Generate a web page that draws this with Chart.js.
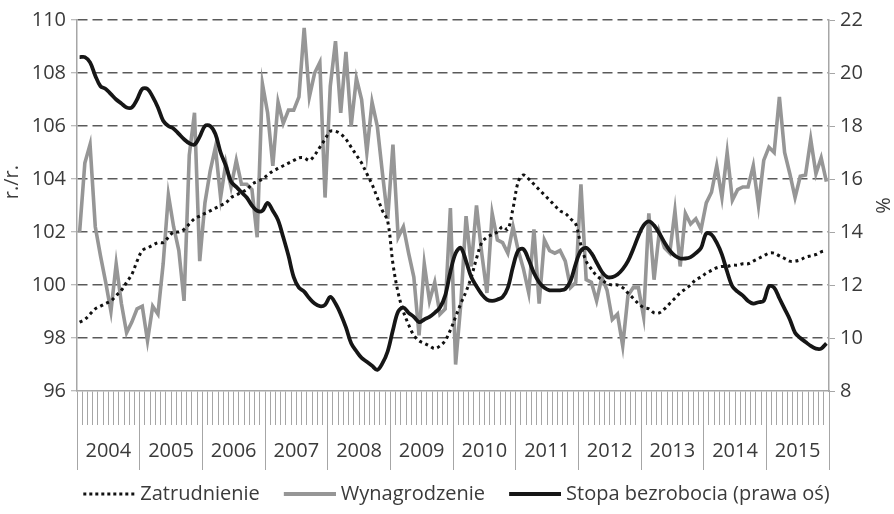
<!DOCTYPE html>
<html><head><meta charset="utf-8">
<script src="https://cdn.jsdelivr.net/npm/chart.js@4.4.1/dist/chart.umd.min.js"></script>
<style>html,body{margin:0;padding:0;background:#fff;overflow:hidden}</style>
</head><body>
<canvas id="c" width="894" height="514"></canvas>
<script>
const years = ['2004','2005','2006','2007','2008','2009','2010','2011','2012','2013','2014','2015'];
const leftTicks = [96, 110, 2];
const rightTicks = [8, 22, 2];

const zatrudnienie = [98.6,98.7,98.9,99.1,99.2,99.3,99.4,99.6,99.8,100.1,100.4,100.9,
 101.3,101.4,101.5,101.6,101.6,101.8,102.0,102.0,102.1,102.3,102.5,102.6,
 102.7,102.8,102.9,103.0,103.1,103.3,103.4,103.5,103.6,103.8,103.9,104.0,
 104.15,104.3,104.4,104.5,104.6,104.7,104.8,104.8,104.7,104.9,105.2,105.5,
 105.8,105.8,105.7,105.5,105.2,104.9,104.6,104.2,103.8,103.3,102.8,102.4,
 100.8,99.7,99.0,98.5,98.1,97.9,97.8,97.7,97.6,97.7,97.9,98.3,
 98.8,99.3,99.75,100.3,101.0,101.6,101.8,101.9,102.0,102.2,102.1,102.9,
 103.9,104.15,104.0,103.8,103.6,103.4,103.2,103.0,102.8,102.7,102.5,102.3,
 101.5,100.9,100.6,100.35,100.2,100.05,100.0,100.0,99.9,99.7,99.5,99.3,
 99.15,99.1,98.95,98.95,99.1,99.3,99.5,99.7,99.85,100.0,100.2,100.3,
 100.45,100.55,100.65,100.7,100.7,100.75,100.75,100.8,100.8,100.9,101.0,101.1,
 101.2,101.2,101.1,101.0,100.9,100.9,100.95,101.05,101.1,101.15,101.25,101.3];

const wynagrodzenie = [102.0,104.6,105.3,102.2,101.1,100.1,99.0,100.8,99.3,98.2,98.6,99.1,
 99.2,97.9,99.2,98.9,100.8,103.4,102.2,101.3,99.4,104.9,106.5,100.9,
 103.1,104.3,105.2,103.3,104.6,103.7,104.7,103.8,103.8,103.6,101.8,107.6,
 106.5,104.5,106.9,106.1,106.6,106.6,107.1,109.7,107.1,108.0,108.4,103.3,
 107.5,109.2,106.5,108.8,106.0,107.8,107.0,105.0,106.9,106.0,104.2,102.5,
 105.3,101.8,102.2,101.2,100.3,98.1,100.8,99.4,100.1,98.9,99.1,102.9,
 97.0,99.3,102.6,100.7,103.0,101.2,99.7,102.7,101.7,101.6,101.2,102.2,
 101.3,100.6,99.7,102.1,99.3,101.7,101.3,101.2,101.3,100.9,99.9,100.1,
 103.8,100.2,100.1,99.4,100.3,99.8,98.7,98.9,97.7,99.6,99.9,99.9,
 98.8,102.7,100.2,102.0,101.4,101.2,102.8,100.7,102.7,102.3,102.5,102.1,
 103.1,103.5,104.5,103.3,105.0,103.2,103.6,103.7,103.7,104.5,103.0,104.7,
 105.2,105.0,107.1,105.0,104.2,103.3,104.1,104.15,105.5,104.2,104.8,103.9];

const stopaBezrobocia = [20.6,20.6,20.4,19.9,19.5,19.4,19.2,19.0,18.85,18.7,18.7,19.0,
 19.4,19.4,19.1,18.7,18.2,18.0,17.9,17.7,17.5,17.35,17.3,17.6,
 18.0,18.0,17.7,17.0,16.5,15.9,15.7,15.5,15.3,15.0,14.8,14.8,
 15.1,14.8,14.45,13.8,13.1,12.3,11.9,11.75,11.5,11.3,11.2,11.25,
 11.55,11.3,10.9,10.4,9.8,9.5,9.25,9.1,8.95,8.8,9.05,9.5,
 10.3,11.0,11.15,10.95,10.8,10.6,10.7,10.8,10.95,11.15,11.6,12.5,
 13.2,13.4,12.9,12.3,11.95,11.65,11.45,11.4,11.45,11.55,11.9,12.7,
 13.3,13.35,12.95,12.45,12.1,11.9,11.8,11.8,11.8,11.85,12.15,12.8,
 13.3,13.4,13.2,12.85,12.5,12.3,12.3,12.4,12.6,12.9,13.35,13.85,
 14.25,14.4,14.25,13.95,13.6,13.3,13.1,13.0,13.0,13.05,13.2,13.4,
 13.95,13.9,13.6,13.15,12.5,11.95,11.75,11.6,11.4,11.3,11.35,11.4,
 11.95,11.9,11.5,11.1,10.7,10.2,10.0,9.85,9.7,9.6,9.6,9.8];

const seriesNames = ['Zatrudnienie', 'Wynagrodzenie', 'Stopa bezrobocia (prawa oś)'];
const leftTitle = 'r./r.';
const rightTitle = '%';

const months = [];
years.forEach(y => { for (let m = 1; m <= 12; m++) months.push(y + '-' + String(m).padStart(2, '0')); });

const FONT = 'Open Sans';
const FS = 20;
const TXT = '#3a3a3a';
const AXIS = '#a6a6a6';
const BOXW = 66;

// legend swatches (line samples) as small canvases used as point styles
function swatch(color, dotted) {
  const c = document.createElement('canvas');
  c.width = BOXW + 10; c.height = 6;
  const g = c.getContext('2d');
  g.fillStyle = color;
  const x0 = c.width - 52;
  if (dotted) {
    for (let x = x0; x + 3 <= c.width; x += 6) g.fillRect(x, 1.5, 3, 3);
  } else {
    g.fillRect(x0, 1, 52, 4);
  }
  return c;
}

new Chart(document.getElementById('c'), {
  type: 'line',
  data: {
    labels: months,
    datasets: [
      { label: seriesNames[0], data: zatrudnienie, yAxisID: 'y', xAxisID: 'x',
        borderColor: '#111', backgroundColor: '#111', borderWidth: 3, borderDash: [3, 3.6],
        pointRadius: 0, pointStyle: swatch('#111', true), tension: 0.35, order: 2 },
      { label: seriesNames[1], data: wynagrodzenie, yAxisID: 'y', xAxisID: 'x',
        borderColor: '#969696', backgroundColor: '#969696', borderWidth: 3.6,
        pointRadius: 0, pointStyle: swatch('#969696', false), tension: 0, order: 3 },
      { label: seriesNames[2], data: stopaBezrobocia, yAxisID: 'y1', xAxisID: 'x',
        borderColor: '#161616', backgroundColor: '#161616', borderWidth: 3.8,
        pointRadius: 0, pointStyle: swatch('#161616', false), tension: 0.35, order: 1 }
    ]
  },
  options: {
    responsive: false,
    devicePixelRatio: 1,
    animation: false,
    layout: { padding: { top: 20, left: 0, right: 0, bottom: 0 } },
    plugins: {
      legend: {
        position: 'bottom',
        align: 'center',
        labels: {
          usePointStyle: true, pointStyleWidth: BOXW, boxHeight: 6,
          color: TXT, font: { family: FONT, size: FS }, padding: 5,
          sort: (a, b) => a.datasetIndex - b.datasetIndex
        }
      },
      tooltip: { enabled: false }
    },
    scales: {
      x: {
        type: 'category', position: 'bottom', weight: 0, offset: true,
        grid: { offset: true, drawOnChartArea: false, drawTicks: true, tickLength: 34, tickColor: AXIS, tickWidth: 1 },
        border: { display: true, color: AXIS, width: 1.5 },
        ticks: { display: false, autoSkip: false },
        afterFit: s => { s.height = 34; }
      },
      x2: {
        type: 'category', labels: years, position: 'bottom', weight: 1, offset: true,
        grid: { offset: true, drawOnChartArea: false, drawTicks: true, tickLength: 45, tickColor: AXIS, tickWidth: 1 },
        border: { display: false },
        ticks: { padding: -31, color: TXT, font: { family: FONT, size: FS }, autoSkip: false, maxRotation: 0 },
        afterFit: s => { s.height = 54; }
      },
      y: {
        position: 'left', min: leftTicks[0], max: leftTicks[1],
        ticks: { stepSize: leftTicks[2], color: TXT, font: { family: FONT, size: FS }, padding: 5 },
        grid: { color: c => (c.tick && c.tick.value === leftTicks[0]) ? 'rgba(0,0,0,0)' : '#5a5a5a',
                lineWidth: 1.5, drawTicks: true, tickLength: 6, tickColor: AXIS, tickWidth: 1 },
        border: { display: true, color: AXIS, width: 1.5, dash: [10, 5] },
        title: { display: true, text: '         ' + leftTitle, color: TXT, font: { family: FONT, size: FS }, padding: { top: 0, bottom: 2 } },
        afterFit: s => { s.width = 77; }
      },
      y1: {
        position: 'right', min: rightTicks[0], max: rightTicks[1],
        ticks: { stepSize: rightTicks[2], color: TXT, font: { family: FONT, size: FS }, padding: 5 },
        grid: { drawOnChartArea: false, drawTicks: true, tickLength: 6, tickColor: AXIS, tickWidth: 1 },
        border: { display: true, color: AXIS, width: 1.5 },
        title: { display: true, text: rightTitle, color: TXT, font: { family: FONT, size: FS }, padding: { top: 0, bottom: 0 } },
        afterFit: s => { s.width = 65; }
      }
    }
  }
});
</script>
</body></html>
